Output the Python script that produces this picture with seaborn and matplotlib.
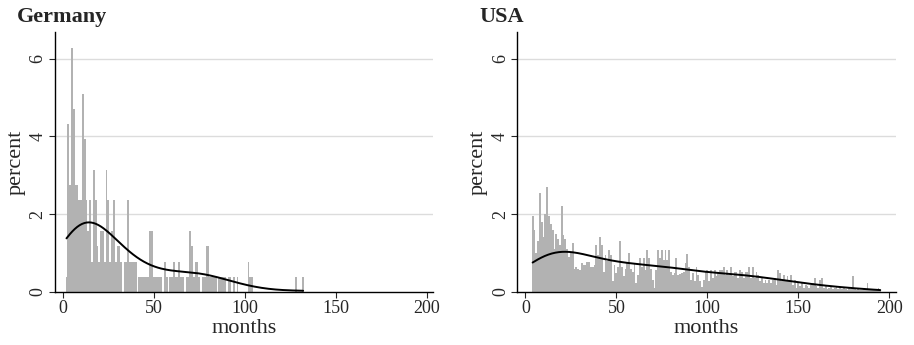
import numpy as np
import pandas as pd
import matplotlib
matplotlib.use("Agg")
import matplotlib.pyplot as plt
import seaborn as sns

# Germany: percent of spells per month of duration
germany_months = list(range(2, 133))
germany_pct = [
    0.39, 4.31, 2.75, 6.27, 4.71, 2.75, 2.75, 2.35, 2.35, 5.10,   # 2-11
    3.92, 2.35, 1.57, 2.35, 0.78, 3.14, 2.35, 1.18, 0.78, 1.57,   # 12-21
    1.57, 0.78, 3.14, 2.35, 0.78, 1.57, 2.35, 0.78, 1.18, 1.18,   # 22-31
    0.78, 0.00, 0.78, 0.78, 2.35, 0.78, 0.78, 0.78, 0.78, 0.00,   # 32-41
    0.39, 0.39, 0.39, 0.39, 0.39, 0.39, 1.57, 1.57, 0.39, 0.39,   # 42-51
    0.39, 0.39, 0.39, 0.00, 0.78, 0.39, 0.00, 0.39, 0.39, 0.78,   # 52-61
    0.39, 0.39, 0.78, 0.39, 0.39, 0.00, 0.39, 0.39, 1.57, 1.18,   # 62-71
    0.39, 0.78, 0.78, 0.39, 0.00, 0.39, 0.39, 1.18, 1.18, 0.39,   # 72-81
    0.39, 0.39, 0.39, 0.00, 0.39, 0.39, 0.39, 0.39, 0.00, 0.39,   # 82-91
    0.39, 0.00, 0.39, 0.00, 0.39, 0.00, 0.00, 0.00, 0.00, 0.00,   # 92-101
    0.78, 0.39, 0.39, 0.00, 0.00, 0.00, 0.00, 0.00, 0.00, 0.00,   # 102-111
    0.00, 0.00, 0.00, 0.00, 0.00, 0.00, 0.00, 0.00, 0.00, 0.00,   # 112-121
    0.00, 0.00, 0.00, 0.00, 0.00, 0.00, 0.39, 0.00, 0.00, 0.00,   # 122-131
    0.39,                                                         # 132
]

# USA
usa_months = list(range(4, 196))
usa_pct = [
    1.95, 1.60, 1.00, 1.30, 2.55, 1.80, 1.40, 2.00, 2.70, 1.95,   # 4-13
    1.75, 1.60, 1.10, 1.50, 1.35, 1.20, 2.20, 1.45, 1.35, 1.10,   # 14-23
    0.90, 1.00, 1.25, 0.60, 0.65, 0.60, 0.55,                     # 24-30
    0.74, 0.70, 0.70, 0.78, 0.78, 0.65, 0.65, 0.70, 1.20, 0.95,   # 31-40
    1.42, 1.20, 0.52, 0.95, 0.80, 1.08, 0.95, 0.27, 0.70, 0.48,   # 41-50
    0.65, 1.30, 0.65, 0.40, 0.60, 0.78, 1.00, 0.60, 0.52, 0.74,   # 51-60
    0.22, 0.44, 0.86, 0.65, 0.86, 0.57, 1.08, 0.86, 0.60, 0.30,   # 61-70
    0.10, 0.57, 1.08, 0.86, 1.08, 0.82, 1.08,                     # 71-77
    0.82, 1.08, 0.52, 0.44, 0.48, 0.86, 0.44, 0.45, 0.48, 0.52,   # 78-87
    0.74, 0.97, 0.65, 0.30, 0.48, 0.27, 0.65, 0.44, 0.27, 0.12,   # 88-97
    0.30, 0.52, 0.55, 0.27, 0.55, 0.35, 0.55, 0.40, 0.52, 0.55,   # 98-107
    0.57, 0.65, 0.44, 0.57, 0.44, 0.65, 0.40, 0.52, 0.50, 0.35,   # 108-117
    0.55, 0.52, 0.35, 0.52, 0.50, 0.65, 0.35,                     # 118-124
    0.65, 0.35, 0.52, 0.44, 0.27, 0.35, 0.22, 0.30, 0.22, 0.30,   # 125-134
    0.22, 0.30, 0.35, 0.18, 0.55, 0.48, 0.27, 0.44, 0.30, 0.40,   # 135-144
    0.27, 0.44, 0.18, 0.30, 0.10, 0.22, 0.14, 0.22, 0.10, 0.18,   # 145-154
    0.14, 0.10, 0.18, 0.22, 0.35, 0.14, 0.10, 0.30, 0.35, 0.10,   # 155-164
    0.14, 0.07, 0.10, 0.14, 0.07, 0.10, 0.14, 0.07, 0.10, 0.07,   # 165-174
    0.10, 0.07, 0.04, 0.10, 0.07, 0.42, 0.07, 0.04, 0.07, 0.04,   # 175-184
    0.04, 0.07, 0.04, 0.22, 0.04, 0.04, 0.07, 0.04, 0.04, 0.10,   # 185-194
    0.04,                                                         # 195
]

panels = [
    ("Germany", germany_months, germany_pct, 1.05),
    ("USA", usa_months, usa_pct, 0.9),
]

sns.set_style("white")
plt.rcParams["font.family"] = ["Liberation Serif", "DejaVu Serif"]

fig = plt.figure(figsize=(9.14, 3.45), dpi=100)
positions = [
    [0.060, 0.154, 0.414, 0.753],
    [0.566, 0.154, 0.414, 0.753],
]

bar_color = "#b2b2b2"

for (name, months, pct, bw), pos in zip(panels, positions):
    ax = fig.add_axes(pos)
    df = pd.DataFrame({"months": months, "pct": pct})
    sns.histplot(
        data=df, x="months", weights="pct", discrete=True, stat="count",
        kde=True, color=bar_color, alpha=1, linewidth=0, shrink=1.0,
        kde_kws={"cut": 0, "bw_adjust": bw},
        line_kws={"linewidth": 1.4},
        ax=ax,
    )
    ax.lines[-1].set_color("black")

    ax.set_xlim(-4.4, 203.5)
    ax.set_ylim(0, 6.68)
    ax.set_xticks([0, 50, 100, 150, 200])
    ax.set_yticks([0, 2, 4, 6])
    ax.set_yticklabels(["0", "2", "4", "6"], rotation=90, va="center")
    for y in [2, 4, 6]:
        ax.axhline(y, color="#dcdcdc", linewidth=1.0, zorder=0)

    for side in ["top", "right"]:
        ax.spines[side].set_visible(False)
    for side in ["left", "bottom"]:
        ax.spines[side].set_color("black")
        ax.spines[side].set_linewidth(1.0)
    ax.tick_params(direction="out", length=4, width=0.8, labelsize=13,
                   left=True, bottom=True, pad=2)

    ax.set_xlabel("months", fontsize=16, labelpad=1)
    ax.set_ylabel("percent", fontsize=16, labelpad=3)

    # panel title, placed above the axes relative to the y spine
    fig.text(pos[0] - 38 / 914, 0.952, name, fontsize=16,
             fontweight="bold", ha="left", va="center")

fig.savefig("out.png", dpi=100)
